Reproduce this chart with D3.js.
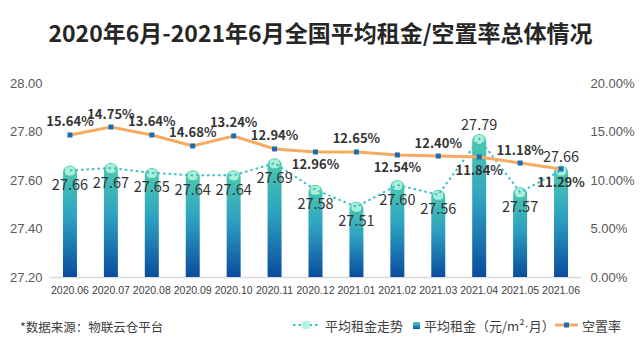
<!DOCTYPE html>
<html><head><meta charset="utf-8">
<script src="https://cdn.jsdelivr.net/npm/d3@7/dist/d3.min.js"></script>
<style>
html,body{margin:0;padding:0;background:#fff;}
svg{display:block;font-family:"Microsoft YaHei","Noto Sans CJK SC","Noto Sans",sans-serif;}
</style></head>
<body><svg id="c" width="641" height="343"></svg>
<script>
const months = ["2020.06","2020.07","2020.08","2020.09","2020.10","2020.11","2020.12","2021.01","2021.02","2021.03","2021.04","2021.05","2021.06"];
const rent = [27.66,27.67,27.65,27.64,27.64,27.69,27.58,27.51,27.60,27.56,27.79,27.57,27.66];
const rentLabelSide = ["below","below","below","below","below","below","below","below","below","below","above","below","above"];
const vacancy = [0.1464,0.1546,0.1464,0.1351,0.1454,0.1320,0.1289,0.1289,0.1258,0.1247,0.1237,0.1175,0.1113];
const vacancyLabels = ["15.64%","14.75%","13.64%","14.68%","13.24%","12.94%","12.96%","12.65%","12.54%","12.40%","11.84%","11.18%","11.29%"];
const vacancyLabelSide = ["above","above","above","above","above","above","below","above","below","above","below","above","below"];
const leftTicks = [27.2,27.4,27.6,27.8,28.0];
const rightTicks = [0,0.05,0.10,0.15,0.20];
const title = "2020年6月-2021年6月全国平均租金/空置率总体情况";
const source = "*数据来源：物联云仓平台";
const legendNames = ["平均租金走势","平均租金（元/m²·月）","空置率"];

const svg = d3.select("#c");
const x = d3.scaleBand().domain(months).range([49.5,581.5]);
const yL = d3.scaleLinear().domain([27.2,28.0]).range([277,83]);
const yR = d3.scaleLinear().domain([0,0.20]).range([277,83]);
const cx = d => x(d) + x.bandwidth()/2;

const defs = svg.append("defs");
const g1 = defs.append("linearGradient").attr("id","barGrad").attr("x1",0).attr("y1",0).attr("x2",0).attr("y2",1);
g1.append("stop").attr("offset","0%").attr("stop-color","#4fcbac");
g1.append("stop").attr("offset","45%").attr("stop-color","#2ea3c2");
g1.append("stop").attr("offset","100%").attr("stop-color","#0a4c9e");

// title
svg.append("text").attr("x",320.5).attr("y",32).attr("text-anchor","middle").attr("dominant-baseline","central")
  .attr("font-size",23).attr("font-weight","bold").attr("fill","#262626").text(title);

// axes
const axL = svg.append("g").attr("transform","translate(49.5,0)")
  .call(d3.axisLeft(yL).tickValues(leftTicks).tickFormat(d3.format(".2f")).tickSize(0).tickPadding(7));
const axR = svg.append("g").attr("transform","translate(581.5,0)")
  .call(d3.axisRight(yR).tickValues(rightTicks).tickFormat(d3.format(".2%")).tickSize(0).tickPadding(9));
[axL,axR].forEach(a=>{a.select(".domain").remove();a.selectAll("text").attr("font-size",13).attr("fill","#595959").attr("font-family","inherit");});

svg.append("line").attr("x1",49.5).attr("x2",581.5).attr("y1",277.5).attr("y2",277.5).attr("stroke","#d9d9d9").attr("stroke-width",1.5);

const axX = svg.append("g").attr("transform","translate(0,277)")
  .call(d3.axisBottom(x).tickSize(0).tickPadding(10));
axX.select(".domain").remove();
axX.selectAll("text").attr("font-size",10.5).attr("fill","#404040").attr("font-family","inherit");

// bars
const bw = 14, r = 7;
const barPath = (d,i) => {
  const xc = cx(months[i]), top = yL(d), bot = 277;
  return `M${xc-bw/2},${bot}V${top+r}A${r},${r} 0 0 1 ${xc+bw/2},${top+r}V${bot}Z`;
};
svg.append("g").selectAll("path").data(rent).join("path")
  .attr("d",barPath).attr("fill","url(#barGrad)");
svg.append("g").selectAll("rect").data(rent).join("rect")
  .attr("x",(d,i)=>cx(months[i])-5).attr("y",d=>yL(d)+1).attr("width",10).attr("height",9).attr("rx",4)
  .attr("fill","#b4f4dc").attr("opacity",0.9);

// trend dotted line
const trend = d3.line().x((d,i)=>cx(months[i])).y(d=>yL(d)+5);
svg.append("path").datum(rent).attr("d",trend).attr("fill","none").attr("stroke","#3bbfcc")
  .attr("stroke-width",2).attr("stroke-dasharray","2.5,3");

// vacancy line
const vline = d3.line().x((d,i)=>cx(months[i])).y(d=>yR(d));
svg.append("path").datum(vacancy).attr("d",vline).attr("fill","none").attr("stroke","#f7aa62").attr("stroke-width",3);
svg.append("g").selectAll("rect").data(vacancy).join("rect")
  .attr("x",(d,i)=>cx(months[i])-2.5).attr("y",d=>yR(d)-2.5).attr("width",5).attr("height",5).attr("fill","#1a6db0");

// rent labels
svg.append("g").selectAll("text").data(rent).join("text")
  .attr("x",(d,i)=>cx(months[i])).attr("y",(d,i)=>yL(d)+(rentLabelSide[i]==="above"?-10:18))
  .attr("text-anchor","middle").attr("dominant-baseline","central").attr("font-size",14.5).attr("fill","#333")
  .text(d=>d3.format(".2f")(d));

// vacancy labels
svg.append("g").selectAll("text").data(vacancy).join("text")
  .attr("x",(d,i)=>cx(months[i])).attr("y",(d,i)=>yR(d)+(vacancyLabelSide[i]==="above"?-14:12))
  .attr("text-anchor","middle").attr("dominant-baseline","central").attr("font-size",13).attr("font-weight","bold").attr("fill","#333")
  .text((d,i)=>vacancyLabels[i]);

// source
svg.append("text").attr("x",20).attr("y",326).attr("dominant-baseline","central").attr("font-size",12.5).attr("fill","#404040").text(source);

// legend
const lg = svg.append("g");
const ly = 325;
lg.append("line").attr("x1",293).attr("x2",320).attr("y1",ly).attr("y2",ly).attr("stroke","#3bbfcc").attr("stroke-width",2).attr("stroke-dasharray","2.5,3");
lg.append("rect").attr("x",302).attr("y",ly-4).attr("width",8).attr("height",8).attr("rx",2).attr("fill","#b4f4dc");
lg.append("text").attr("x",325).attr("y",ly).attr("dominant-baseline","central").attr("font-size",13).attr("fill","#404040").text(legendNames[0]);
lg.append("rect").attr("x",413).attr("y",ly-3).attr("width",7).attr("height",7).attr("fill","url(#barGrad)");
const t2 = lg.append("text").attr("x",424).attr("y",ly).attr("dominant-baseline","central").attr("font-size",13).attr("fill","#404040");
const parts = legendNames[1].split("·");
t2.append("tspan").text(parts[0]);
t2.append("tspan").attr("font-family","'Liberation Sans',sans-serif").text("·");
t2.append("tspan").text(parts[1]);
lg.append("line").attr("x1",555).attr("x2",578).attr("y1",ly).attr("y2",ly).attr("stroke","#f7aa62").attr("stroke-width",3);
lg.append("rect").attr("x",564).attr("y",ly-2.5).attr("width",5).attr("height",5).attr("fill","#1a6db0");
lg.append("text").attr("x",582).attr("y",ly).attr("dominant-baseline","central").attr("font-size",13).attr("fill","#404040").text(legendNames[2]);
</script></body></html>
